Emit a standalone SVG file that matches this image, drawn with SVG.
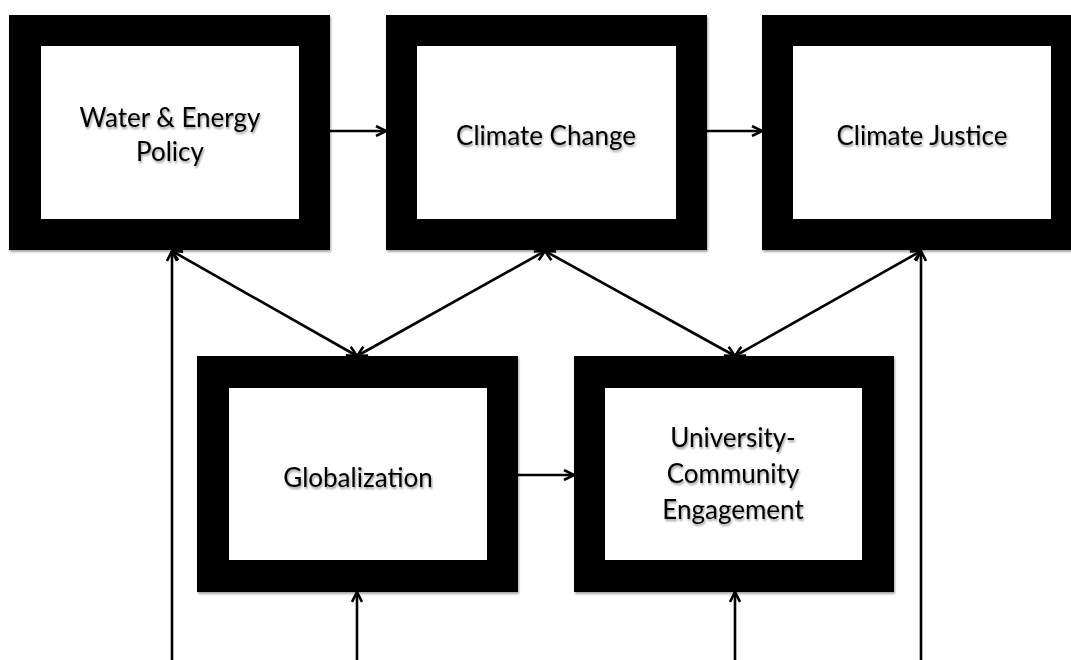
<svg xmlns="http://www.w3.org/2000/svg" width="1071" height="660" viewBox="0 0 1071 660">
  <defs>
    <filter id="shadow" x="-10%" y="-10%" width="130%" height="130%">
      <feDropShadow dx="1" dy="2" stdDeviation="1.2" flood-color="#000" flood-opacity="0.35"/>
    </filter>
    <filter id="tshadow" x="-10%" y="-30%" width="130%" height="160%">
      <feDropShadow dx="1" dy="2" stdDeviation="1" flood-color="#000" flood-opacity="0.4"/>
    </filter>
    <marker id="arr" viewBox="0 0 12 12" refX="11" refY="6" markerWidth="12" markerHeight="12" markerUnits="userSpaceOnUse" orient="auto-start-reverse">
      <path d="M1,1 L11,6 L1,11" fill="none" stroke="#000" stroke-width="2.6" stroke-linejoin="miter"/>
    </marker>
  </defs>
  <style>
    .frame { fill: #000; filter: url(#shadow); }
    .inner { fill: #fff; }
    .label { font-family: Lato, "Liberation Sans", sans-serif; font-size: 26px; fill: #000; text-anchor: middle; filter: url(#tshadow); }
    .conn line { stroke: #000; stroke-width: 2.6; fill: none; }
    .one { marker-end: url(#arr); }
    .two { marker-start: url(#arr); marker-end: url(#arr); }
  </style>
  <rect width="1071" height="660" fill="#fff"/>

  <g id="connectors" class="conn">
    <line class="one" x1="330" y1="131" x2="386" y2="131"/>
    <line class="one" x1="707" y1="131" x2="762" y2="131"/>
    <line class="one" x1="518" y1="475" x2="574" y2="475"/>
    <line class="two" x1="172" y1="251" x2="357" y2="356"/>
    <line class="two" x1="545" y1="251" x2="357" y2="356"/>
    <line class="two" x1="545" y1="251" x2="735" y2="356"/>
    <line class="two" x1="921" y1="251" x2="735" y2="356"/>
    <line class="one" x1="172" y1="662" x2="172" y2="251"/>
    <line class="one" x1="921" y1="662" x2="921" y2="251"/>
    <line class="one" x1="357" y1="662" x2="357" y2="592"/>
    <line class="one" x1="735" y1="662" x2="735" y2="592"/>
  </g>

  <g id="water-energy-policy">
    <rect class="frame" x="9" y="15" width="321" height="235"/>
    <rect class="inner" x="41" y="46" width="258" height="173"/>
    <text class="label" x="170" y="127">Water &amp; Energy</text>
    <text class="label" x="170" y="161">Policy</text>
  </g>

  <g id="climate-change">
    <rect class="frame" x="386" y="15" width="321" height="235"/>
    <rect class="inner" x="417" y="46" width="259" height="173"/>
    <text class="label" x="546" y="145">Climate Change</text>
  </g>

  <g id="climate-justice">
    <rect class="frame" x="762" y="15" width="321" height="235"/>
    <rect class="inner" x="793" y="46" width="258" height="173"/>
    <text class="label" x="922" y="145">Climate Justice</text>
  </g>

  <g id="globalization">
    <rect class="frame" x="197" y="356" width="321" height="236"/>
    <rect class="inner" x="229" y="388" width="258" height="172"/>
    <text class="label" x="358" y="487">Globalization</text>
  </g>

  <g id="university-community-engagement">
    <rect class="frame" x="574" y="356" width="320" height="236"/>
    <rect class="inner" x="605" y="388" width="257" height="172"/>
    <text class="label" x="733" y="447">University-</text>
    <text class="label" x="733" y="483">Community</text>
    <text class="label" x="733" y="519">Engagement</text>
  </g>
</svg>
